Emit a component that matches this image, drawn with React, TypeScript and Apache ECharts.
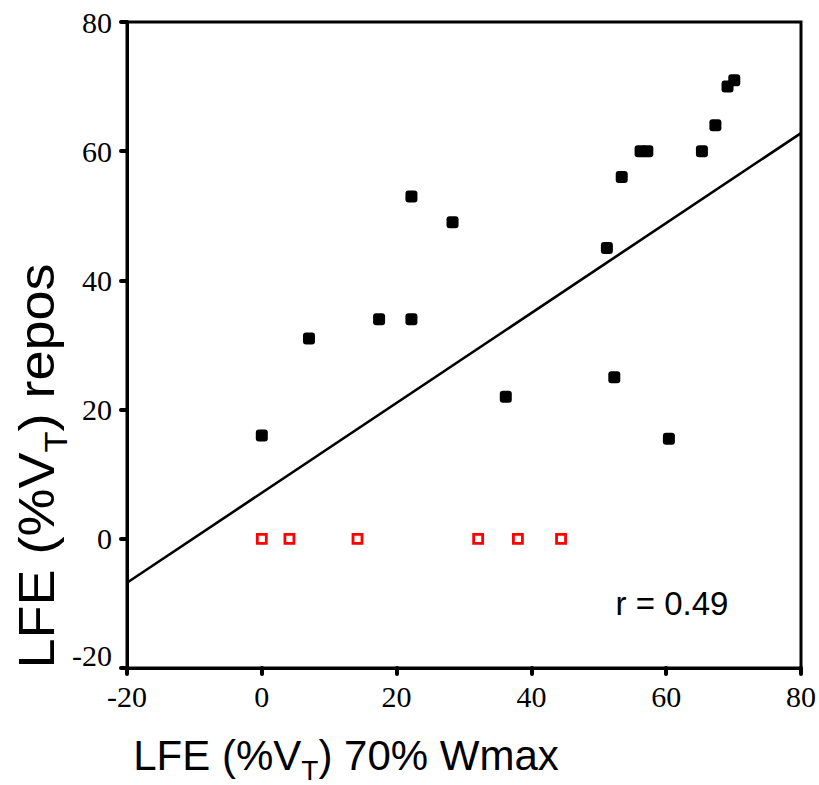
import React, { useEffect, useRef } from "react";
import * as echarts from "echarts";

const filledX = [0, 7, 17.4, 22.2, 22.2, 28.3, 36.2, 51.2, 52.3, 53.4, 56.2, 57.2, 60.4, 65.3, 67.3, 69.1, 70.1];
const filledY = [16, 31, 34, 34, 53, 49, 22, 45, 25, 56, 60, 60, 15.5, 60, 64, 70, 71];
const openX = [0, 4.1, 14.2, 32.1, 38, 44.4];
const openY = [0, 0, 0, 0, 0, 0];
const fitX = [-20, 80];
const fitY = [-6.8, 62.8];
const axisMin = -20;
const axisMax = 80;
const axisStep = 20;
const rValue = "0.49";
const xTitle = ["LFE (%V", "T", ") 70% Wmax"];
const yTitle = ["LFE (%V", "T", ") repos"];

const SANS = "Liberation Sans";
const SERIF = "Liberation Serif";

export default function App() {
  const ref = useRef<HTMLDivElement>(null);
  useEffect(() => {
    if (!ref.current) return;
    const chart = echarts.init(ref.current, null, { renderer: "svg" });
    const zip = (a: number[], b: number[]) => a.map((v, i) => [v, b[i]]);
    chart.setOption({
      animation: false,
      backgroundColor: "#fff",
      grid: {
        left: 127,
        top: 22,
        right: 18,
        bottom: 117,
        show: true,
        borderColor: "#000",
        borderWidth: 3,
      },
      xAxis: {
        type: "value",
        min: axisMin,
        max: axisMax,
        interval: axisStep,
        splitLine: { show: false },
        axisLine: { show: true, onZero: false, lineStyle: { color: "#000", width: 3 } },
        axisTick: { show: true, inside: false, length: 6, lineStyle: { color: "#000", width: 4, cap: "round" } },
        axisLabel: { margin: 13, color: "#000", fontFamily: SERIF, fontSize: 30 },
      },
      yAxis: {
        type: "value",
        min: axisMin,
        max: axisMax,
        interval: axisStep,
        splitLine: { show: false },
        axisLine: { show: true, onZero: false, lineStyle: { color: "#000", width: 3 } },
        axisTick: { show: true, inside: false, length: 6, lineStyle: { color: "#000", width: 4, cap: "round" } },
        axisLabel: {
          margin: 15,
          color: "#000",
          fontFamily: SERIF,
          fontSize: 30,
          formatter: (v: number) => (v === axisMin ? `{low|${v}}` : String(v)),
          rich: {
            low: { fontFamily: SERIF, fontSize: 30, color: "#000", padding: [0, 0, 26, 0] },
          },
        },
      },
      series: [
        {
          type: "line",
          data: zip(fitX, fitY),
          symbol: "none",
          lineStyle: { color: "#000", width: 2.6 },
          z: 1,
        },
        {
          type: "scatter",
          data: zip(filledX, filledY),
          symbol: "roundRect",
          symbolSize: 12,
          itemStyle: { color: "#000", opacity: 1 },
          z: 3,
        },
        {
          type: "scatter",
          data: zip(openX, openY),
          symbol: "rect",
          symbolSize: 9,
          itemStyle: { color: "#fff", borderColor: "#ff0000", borderWidth: 2.8, opacity: 1 },
          z: 3,
        },
      ],
      graphic: [
        {
          type: "text",
          x: 346,
          y: 755,
          style: {
            text: `{m|${xTitle[0]}}{s|${xTitle[1]}}{m|${xTitle[2]}}`,
            align: "center",
            verticalAlign: "middle",
            rich: {
              m: { fontFamily: SANS, fontSize: 42, lineHeight: 42, fill: "#000", verticalAlign: "top" },
              s: { fontFamily: SANS, fontSize: 28, lineHeight: 20, fill: "#000", verticalAlign: "top", padding: [22, 0, 0, 0] },
            },
          },
        },
        {
          type: "text",
          x: 36.5,
          y: 466,
          rotation: Math.PI / 2,
          scaleX: 1.08,
          style: {
            text: `{m|${yTitle[0]}}{s|${yTitle[1]}}{m|${yTitle[2]}}`,
            align: "center",
            verticalAlign: "middle",
            rich: {
              m: { fontFamily: SANS, fontSize: 50, lineHeight: 50, fill: "#000", verticalAlign: "top" },
              s: { fontFamily: SANS, fontSize: 32, lineHeight: 24, fill: "#000", verticalAlign: "top", padding: [28, 0, 0, 0] },
            },
          },
        },
        {
          type: "text",
          x: 672,
          y: 603,
          style: {
            text: `r = ${rValue}`,
            fontFamily: SANS,
            fontSize: 33,
            fill: "#000",
            align: "center",
            verticalAlign: "middle",
          },
        },
      ],
    });
    return () => chart.dispose();
  }, []);
  return (
    <div
      ref={ref}
      style={{ position: "fixed", left: 0, top: 0, width: 819, height: 785, background: "#fff" }}
    />
  );
}
